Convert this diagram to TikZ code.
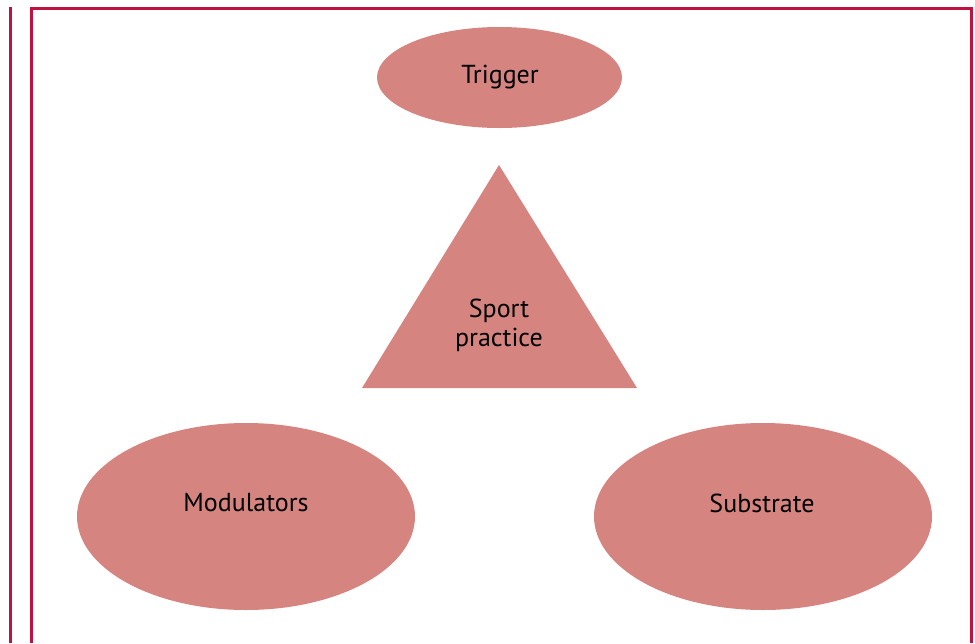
\documentclass[tikz,border=0pt]{standalone}
\usepackage{fontspec}
\setmainfont{PT Sans}
\usetikzlibrary{shapes.geometric}
\definecolor{frame}{RGB}{192,18,62}
\definecolor{blob}{RGB}{214,132,128}
\tikzset{
  blobshape/.style={ellipse, fill=blob, draw=none, inner sep=0pt},
  lbl/.style={font=\fontsize{26}{29}\selectfont, text=black, align=center, inner sep=0pt},
  framestyle/.style={draw=frame, line width=2.8pt}
}
\begin{document}
\begin{tikzpicture}[x=1pt,y=-1pt]
\useasboundingbox (0,0) rectangle (975,643);
% frame
\coordinate (l1) at (10.5,7);
\coordinate (l2) at (10.5,643);
\coordinate (r1) at (31.5,643);
\coordinate (r2) at (31.5,8.7);
\coordinate (r3) at (971.5,8.7);
\coordinate (r4) at (971.5,643);
\draw[framestyle] (l1) -- (l2);
\draw[framestyle, line join=miter] (r1) -- (r2) -- (r3) -- (r4);
% trigger
\node[blobshape, minimum width=245pt, minimum height=101pt] (trig) at (499.5,77.5) {};
\node[lbl] (trigt) at (500,77) {Trigger};
% triangle
\coordinate (ta) at (499,165);
\coordinate (tb) at (362,388);
\coordinate (tc) at (637,388);
\fill[blob] (ta) -- (tb) -- (tc) -- cycle;
\node[lbl] (sport) at (499,325) {Sport\\practice};
% modulators
\node[blobshape, minimum width=338pt, minimum height=187pt] (mod) at (246,516.5) {};
\node[lbl] (modt) at (246,503) {Modulators};
% substrate
\node[blobshape, minimum width=338pt, minimum height=187pt] (sub) at (763,516.5) {};
\node[lbl] (subt) at (762,503) {Substrate};
\end{tikzpicture}
\end{document}
